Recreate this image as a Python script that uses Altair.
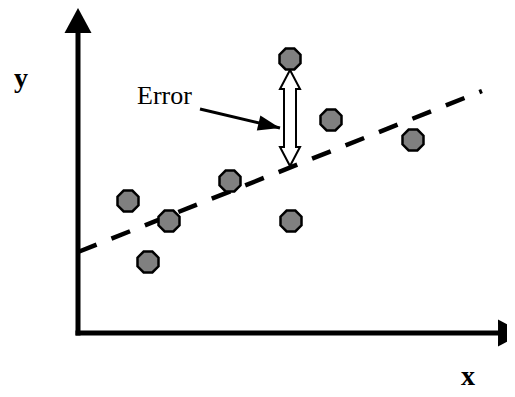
import altair as alt
import pandas as pd
import math

# ---- data (arbitrary units) ----
pt_x = [1.25, 1.75, 2.275, 3.8, 5.3, 5.325, 6.325, 8.375]
pt_y = [5.28, 2.84, 4.48, 6.08, 10.96, 4.48, 8.52, 7.72]

fit_x = [0.0, 10.1]
fit_y = [3.24, 9.68]

axis_end_x = 10.5      # end of x-axis shaft
axis_end_y = 12.0      # end of y-axis shaft
axis_tip_x = 11.125    # x-axis arrow tip
axis_tip_y = 13.0      # y-axis arrow tip

err_x = 5.3            # error arrow position
err_top = 10.52
err_bottom = 6.68

label_text = ["Error"]
label_x = [1.475]
label_y = [9.16]

ptr_x = [3.05, 5.05]   # pointer from label to error arrow (start, tip)
ptr_y = [8.96, 8.2]

axis_titles = ["y", "x"]
axis_title_x = [-1.425, 9.75]
axis_title_y = [9.84, -2.08]

# ---- scales ----
W, H = 429, 325
xs = alt.Scale(domain=[0, 10.725], nice=False, zero=False)
ys = alt.Scale(domain=[0, 13], nice=False, zero=False)
px_per_x = W / 10.725
px_per_y = H / 13.0

def X(f):
    return alt.X(f, type="quantitative", scale=xs, axis=None)

def Y(f):
    return alt.Y(f, type="quantitative", scale=ys, axis=None)

OCTAGON = "M-0.414,-1L0.414,-1L1,-0.414L1,0.414L0.414,1L-0.414,1L-1,0.414L-1,-0.414Z"
ARROW_AXIS = "M0,0L1,1.85L-1,1.85Z"
ARROW_PTR = "M0,0L0.7,2L-0.7,2Z"

# dashed fitted line
fit_df = pd.DataFrame({"x": fit_x, "y": fit_y})
fit = alt.Chart(fit_df).mark_line(
    color="black", strokeWidth=4.5, strokeDash=[20, 16], strokeCap="butt"
).encode(x=X("x"), y=Y("y"))

# hollow double-headed error arrow (built from its end points)
hl = 19 / px_per_y
hw = 10 / px_per_x
sw = 6 / px_per_x
poly = [
    (err_x, err_top), (err_x + hw, err_top - hl), (err_x + sw, err_top - hl),
    (err_x + sw, err_bottom + hl), (err_x + hw, err_bottom + hl), (err_x, err_bottom),
    (err_x - hw, err_bottom + hl), (err_x - sw, err_bottom + hl),
    (err_x - sw, err_top - hl), (err_x - hw, err_top - hl), (err_x, err_top),
]
err_df = pd.DataFrame({"x": [p[0] for p in poly], "y": [p[1] for p in poly],
                       "o": list(range(len(poly)))})
err = alt.Chart(err_df).mark_line(
    color="black", strokeWidth=2, strokeJoin="miter"
).encode(x=X("x"), y=Y("y"), order="o:Q")

# points
pts_df = pd.DataFrame({"x": pt_x, "y": pt_y})
pts = alt.Chart(pts_df).mark_point(
    shape=OCTAGON, filled=True, fill="#808080", stroke="black",
    strokeWidth=2.5, size=441, opacity=1
).encode(x=X("x"), y=Y("y"))

# axes
axes_df = pd.DataFrame({"x": [0, 0], "y": [0, 0],
                        "x2": [0, axis_end_x], "y2": [axis_end_y, 0]})
axes = alt.Chart(axes_df).mark_rule(
    color="black", strokeWidth=5, strokeCap="square"
).encode(x=X("x"), y=Y("y"), x2="x2", y2="y2")

heads_df = pd.DataFrame({"x": [0, axis_tip_x], "y": [axis_tip_y, 0], "a": [0, 90]})
heads = alt.Chart(heads_df).mark_point(
    shape=ARROW_AXIS, filled=True, color="black", size=729, opacity=1, strokeWidth=0
).encode(x=X("x"), y=Y("y"), angle=alt.Angle("a:Q", scale=None))

# pointer arrow from label
ptr_df = pd.DataFrame({"x": [ptr_x[0]], "y": [ptr_y[0]], "x2": [ptr_x[1]], "y2": [ptr_y[1]]})
ptr = alt.Chart(ptr_df).mark_rule(color="black", strokeWidth=3).encode(
    x=X("x"), y=Y("y"), x2="x2", y2="y2")

dxp = (ptr_x[1] - ptr_x[0]) * px_per_x
dyp = -(ptr_y[1] - ptr_y[0]) * px_per_y
ang = 90 + math.degrees(math.atan2(dyp, dxp))
ptr_head_df = pd.DataFrame({"x": [ptr_x[1]], "y": [ptr_y[1]], "a": [ang]})
ptr_head = alt.Chart(ptr_head_df).mark_point(
    shape=ARROW_PTR, filled=True, color="black", size=484, opacity=1, strokeWidth=0
).encode(x=X("x"), y=Y("y"), angle=alt.Angle("a:Q", scale=None))

# texts
lab_df = pd.DataFrame({"t": label_text, "x": label_x, "y": label_y})
lab = alt.Chart(lab_df).mark_text(
    font="Liberation Serif", fontSize=26, align="left", baseline="alphabetic", color="black"
).encode(x=X("x"), y=Y("y"), text="t:N")

tit_df = pd.DataFrame({"t": axis_titles, "x": axis_title_x, "y": axis_title_y})
tit = alt.Chart(tit_df).mark_text(
    font="Liberation Serif", fontSize=28, fontWeight="bold", align="center",
    baseline="alphabetic", color="black"
).encode(x=X("x"), y=Y("y"), text="t:N")

chart = alt.layer(fit, err, pts, axes, heads, ptr, ptr_head, lab, tit).properties(
    width=W, height=H,
    autosize=alt.AutoSizeParams(type="none"),
    padding={"left": 70, "top": 0, "right": 0, "bottom": 56},
    background="white",
).configure_view(stroke=None)

chart.save("out.html", embed_options={"renderer": "svg", "actions": False})
